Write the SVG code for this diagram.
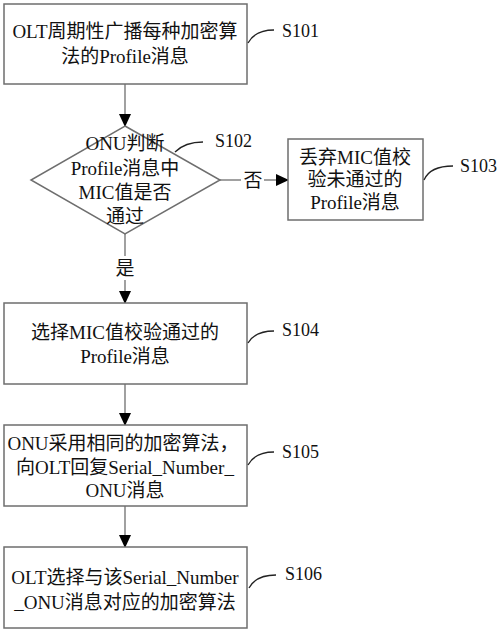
<svg xmlns="http://www.w3.org/2000/svg" width="500" height="632" viewBox="0 0 500 632">
<style>
  .box{fill:#fff;stroke:#6e6e6e;stroke-width:1.5}
  .t{font-family:"Liberation Serif","Noto Sans CJK SC",serif;font-size:19px;fill:#111;text-anchor:middle}
  .lbl{font-family:"Liberation Serif","Noto Sans CJK SC",serif;font-size:18px;fill:#111}
  .ln{stroke:#6e6e6e;stroke-width:1.3;fill:none}
  .cv{stroke:#222;stroke-width:1.3;fill:none}
</style>
<defs>
  <marker id="ah" markerWidth="13" markerHeight="14" refX="13" refY="6.5" orient="auto" markerUnits="userSpaceOnUse" viewBox="0 0 14 13">
    <path d="M0,0 L14,6.5 L0,13 Z" fill="#000"/>
  </marker>
</defs>
<rect width="500" height="632" fill="#fff"/>
<g id="connectors">
  <line class="ln" x1="125" y1="84" x2="125" y2="126" marker-end="url(#ah)"/>
  <line class="ln" x1="220" y1="180" x2="241" y2="180"/>
  <line class="ln" x1="264" y1="180" x2="288" y2="180" marker-end="url(#ah)"/>
  <line class="ln" x1="125" y1="234" x2="125" y2="256"/>
  <line class="ln" x1="125" y1="280" x2="125" y2="303" marker-end="url(#ah)"/>
  <line class="ln" x1="125" y1="384" x2="125" y2="425" marker-end="url(#ah)"/>
  <line class="ln" x1="125" y1="506" x2="125" y2="547" marker-end="url(#ah)"/>
  <text class="t" x="253" y="187">否</text>
  <text class="t" x="125" y="275">是</text>
</g>
<g id="S101">
  <rect class="box" x="4" y="4" width="243" height="80"/>
  <text class="t" x="125" y="38">OLT周期性广播每种加密算</text>
  <text class="t" x="125" y="63">法的Profile消息</text>
  <path class="cv" d="M248,43 Q255,30 274,30"/>
  <text class="lbl" x="282" y="37">S101</text>
</g>
<g id="S102">
  <polygon class="box" points="125,126 220,180 125,234 31,180"/>
  <text class="t" x="125" y="150">ONU判断</text>
  <text class="t" x="125" y="175">Profile消息中</text>
  <text class="t" x="125" y="199">MIC值是否</text>
  <text class="t" x="125" y="223">通过</text>
  <path class="cv" d="M175,152 Q185,142 203,142"/>
  <text class="lbl" x="215" y="147">S102</text>
</g>
<g id="S103">
  <rect class="box" x="288" y="139" width="135" height="81"/>
  <text class="t" x="355" y="164">丢弃MIC值校</text>
  <text class="t" x="355" y="186">验未通过的</text>
  <text class="t" x="355" y="209">Profile消息</text>
  <path class="cv" d="M424,180 Q430,166 453,166"/>
  <text class="lbl" x="460" y="172">S103</text>
</g>
<g id="S104">
  <rect class="box" x="4" y="303" width="243" height="81"/>
  <text class="t" x="125" y="339">选择MIC值校验通过的</text>
  <text class="t" x="125" y="363">Profile消息</text>
  <path class="cv" d="M248,343 Q255,331 274,331"/>
  <text class="lbl" x="282" y="336">S104</text>
</g>
<g id="S105">
  <rect class="box" x="4" y="425" width="243" height="81"/>
  <text class="t" x="123" y="450">ONU采用相同的加密算法，</text>
  <text class="t" x="125" y="474">向OLT回复Serial_Number_</text>
  <text class="t" x="125" y="497">ONU消息</text>
  <path class="cv" d="M248,465 Q255,452 274,452"/>
  <text class="lbl" x="282" y="458">S105</text>
</g>
<g id="S106">
  <rect class="box" x="4" y="547" width="243" height="81"/>
  <text class="t" x="125" y="584">OLT选择与该Serial_Number</text>
  <text class="t" x="125" y="609">_ONU消息对应的加密算法</text>
  <path class="cv" d="M249,588 Q256,575 276,575"/>
  <text class="lbl" x="285" y="580">S106</text>
</g>
</svg>
